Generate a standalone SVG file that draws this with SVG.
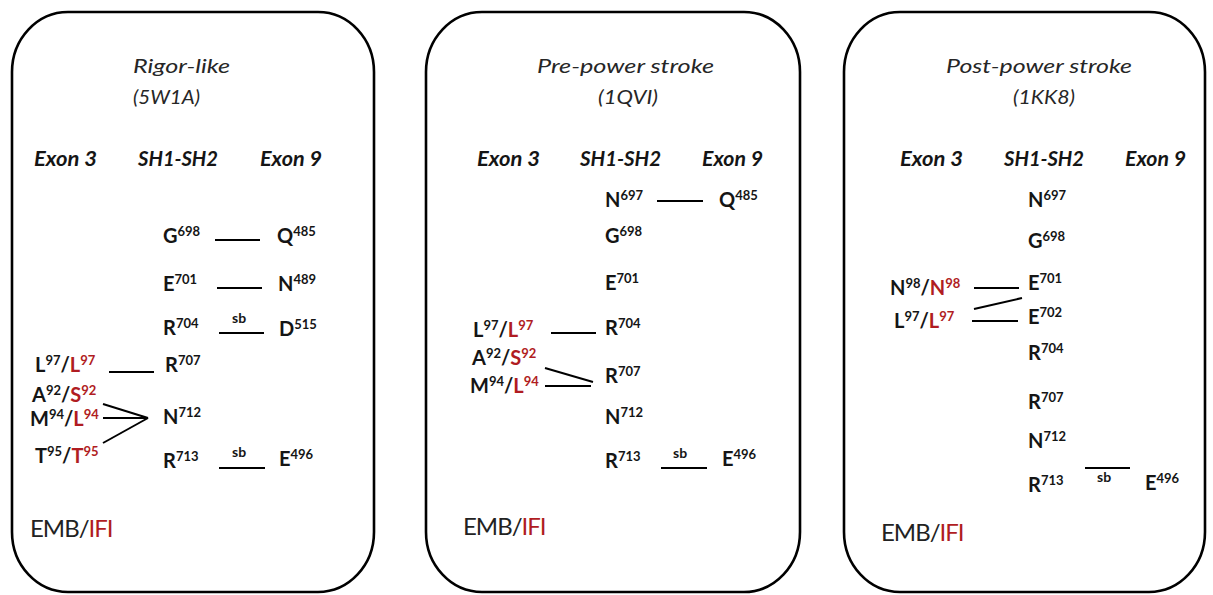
<svg xmlns="http://www.w3.org/2000/svg" width="1213" height="595" viewBox="0 0 1213 595">
<style>
text{font-family:Lato,"Open Sans","Liberation Sans",sans-serif;fill:#151515}
.panel{fill:#fff;stroke:#000;stroke-width:2.6}
.title{font-size:20px;font-style:italic;fill:#262626}
.hdr{font-size:20px;font-weight:bold;font-style:italic}
.res{font-size:20px;font-weight:bold}
.sup{font-size:13px}
.sb{font-size:14px;font-weight:bold}
.leg{font-size:24px;letter-spacing:-1px;fill:#222}
.red,.leg .red{fill:#b01c22}
.conn line{stroke:#000;stroke-width:2}
</style>
<rect width="1213" height="595" fill="#fff"/>

<g id="panel-rigor">
<rect class="panel" x="12" y="12" width="362" height="580" rx="56" ry="60"/>
<text class="title" x="133" y="73" textLength="97" lengthAdjust="spacingAndGlyphs">Rigor-like</text>
<text class="title" x="133" y="104" textLength="67" lengthAdjust="spacingAndGlyphs">(5W1A)</text>
<text class="hdr" x="34" y="166" textLength="63" lengthAdjust="spacingAndGlyphs">Exon 3</text>
<text class="hdr" x="138" y="166" textLength="80" lengthAdjust="spacingAndGlyphs">SH1-SH2</text>
<text class="hdr" x="260" y="166" textLength="62" lengthAdjust="spacingAndGlyphs">Exon 9</text>
<g id="p1-G698"><text class="res" x="163" y="243">G<tspan class="sup" dy="-7">698</tspan></text></g>
<g id="p1-Q485"><text class="res" x="277" y="243">Q<tspan class="sup" dy="-7">485</tspan></text></g>
<g id="p1-E701"><text class="res" x="163" y="291">E<tspan class="sup" dy="-7">701</tspan></text></g>
<g id="p1-N489"><text class="res" x="278" y="291">N<tspan class="sup" dy="-7">489</tspan></text></g>
<g id="p1-R704"><text class="res" x="163" y="335">R<tspan class="sup" dy="-7">704</tspan></text></g>
<g id="p1-D515"><text class="res" x="279" y="336">D<tspan class="sup" dy="-7">515</tspan></text></g>
<g id="p1-L97"><text class="res" x="35" y="372">L<tspan class="sup" dy="-7">97</tspan><tspan dy="7">/</tspan><tspan class="red">L</tspan><tspan class="sup red" dy="-7">97</tspan></text></g>
<g id="p1-R707"><text class="res" x="165" y="372">R<tspan class="sup" dy="-7">707</tspan></text></g>
<g id="p1-A92"><text class="res" x="32" y="402">A<tspan class="sup" dy="-7">92</tspan><tspan dy="7">/</tspan><tspan class="red">S</tspan><tspan class="sup red" dy="-7">92</tspan></text></g>
<g id="p1-M94"><text class="res" x="30" y="426">M<tspan class="sup" dy="-7">94</tspan><tspan dy="7">/</tspan><tspan class="red">L</tspan><tspan class="sup red" dy="-7">94</tspan></text></g>
<g id="p1-T95"><text class="res" x="35" y="463">T<tspan class="sup" dy="-7">95</tspan><tspan dy="7">/</tspan><tspan class="red">T</tspan><tspan class="sup red" dy="-7">95</tspan></text></g>
<g id="p1-N712"><text class="res" x="163" y="424">N<tspan class="sup" dy="-7">712</tspan></text></g>
<g id="p1-R713"><text class="res" x="163" y="468">R<tspan class="sup" dy="-7">713</tspan></text></g>
<g id="p1-E496"><text class="res" x="279" y="466">E<tspan class="sup" dy="-7">496</tspan></text></g>
<g id="p1-legend"><text class="leg" x="30" y="537">EMB/<tspan class="red">IFI</tspan></text></g>
</g>

<g id="panel-prepower">
<rect class="panel" x="426" y="12" width="374" height="580" rx="56" ry="60"/>
<text class="title" x="537" y="73" textLength="177" lengthAdjust="spacingAndGlyphs">Pre-power stroke</text>
<text class="title" x="598" y="104" textLength="60" lengthAdjust="spacingAndGlyphs">(1QVI)</text>
<text class="hdr" x="477" y="166" textLength="63" lengthAdjust="spacingAndGlyphs">Exon 3</text>
<text class="hdr" x="580" y="166" textLength="81" lengthAdjust="spacingAndGlyphs">SH1-SH2</text>
<text class="hdr" x="702" y="166" textLength="61" lengthAdjust="spacingAndGlyphs">Exon 9</text>
<g id="p2-N697"><text class="res" x="605" y="207">N<tspan class="sup" dy="-7">697</tspan></text></g>
<g id="p2-Q485"><text class="res" x="719" y="207">Q<tspan class="sup" dy="-7">485</tspan></text></g>
<g id="p2-G698"><text class="res" x="605" y="243">G<tspan class="sup" dy="-7">698</tspan></text></g>
<g id="p2-E701"><text class="res" x="605" y="290">E<tspan class="sup" dy="-7">701</tspan></text></g>
<g id="p2-R704"><text class="res" x="605" y="335">R<tspan class="sup" dy="-7">704</tspan></text></g>
<g id="p2-L97"><text class="res" x="473" y="337">L<tspan class="sup" dy="-7">97</tspan><tspan dy="7">/</tspan><tspan class="red">L</tspan><tspan class="sup red" dy="-7">97</tspan></text></g>
<g id="p2-A92"><text class="res" x="472" y="365">A<tspan class="sup" dy="-7">92</tspan><tspan dy="7">/</tspan><tspan class="red">S</tspan><tspan class="sup red" dy="-7">92</tspan></text></g>
<g id="p2-M94"><text class="res" x="470" y="393">M<tspan class="sup" dy="-7">94</tspan><tspan dy="7">/</tspan><tspan class="red">L</tspan><tspan class="sup red" dy="-7">94</tspan></text></g>
<g id="p2-R707"><text class="res" x="605" y="383">R<tspan class="sup" dy="-7">707</tspan></text></g>
<g id="p2-N712"><text class="res" x="605" y="424">N<tspan class="sup" dy="-7">712</tspan></text></g>
<g id="p2-R713"><text class="res" x="605" y="468">R<tspan class="sup" dy="-7">713</tspan></text></g>
<g id="p2-E496"><text class="res" x="722" y="466">E<tspan class="sup" dy="-7">496</tspan></text></g>
<g id="p2-legend"><text class="leg" x="463" y="535">EMB/<tspan class="red">IFI</tspan></text></g>
</g>

<g id="panel-postpower">
<rect class="panel" x="844" y="12" width="361" height="580" rx="56" ry="60"/>
<text class="title" x="946" y="73" textLength="186" lengthAdjust="spacingAndGlyphs">Post-power stroke</text>
<text class="title" x="1013" y="104" textLength="62" lengthAdjust="spacingAndGlyphs">(1KK8)</text>
<text class="hdr" x="900" y="166" textLength="63" lengthAdjust="spacingAndGlyphs">Exon 3</text>
<text class="hdr" x="1004" y="166" textLength="80" lengthAdjust="spacingAndGlyphs">SH1-SH2</text>
<text class="hdr" x="1125" y="166" textLength="61" lengthAdjust="spacingAndGlyphs">Exon 9</text>
<g id="p3-N697"><text class="res" x="1028" y="207">N<tspan class="sup" dy="-7">697</tspan></text></g>
<g id="p3-G698"><text class="res" x="1028" y="248">G<tspan class="sup" dy="-7">698</tspan></text></g>
<g id="p3-E701"><text class="res" x="1028" y="290">E<tspan class="sup" dy="-7">701</tspan></text></g>
<g id="p3-E702"><text class="res" x="1028" y="324">E<tspan class="sup" dy="-7">702</tspan></text></g>
<g id="p3-R704"><text class="res" x="1028" y="360">R<tspan class="sup" dy="-7">704</tspan></text></g>
<g id="p3-R707"><text class="res" x="1028" y="409">R<tspan class="sup" dy="-7">707</tspan></text></g>
<g id="p3-N712"><text class="res" x="1028" y="448">N<tspan class="sup" dy="-7">712</tspan></text></g>
<g id="p3-R713"><text class="res" x="1028" y="492">R<tspan class="sup" dy="-7">713</tspan></text></g>
<g id="p3-N98"><text class="res" x="890" y="295">N<tspan class="sup" dy="-7">98</tspan><tspan dy="7">/</tspan><tspan class="red">N</tspan><tspan class="sup red" dy="-7">98</tspan></text></g>
<g id="p3-L97"><text class="res" x="894" y="328">L<tspan class="sup" dy="-7">97</tspan><tspan dy="7">/</tspan><tspan class="red">L</tspan><tspan class="sup red" dy="-7">97</tspan></text></g>
<g id="p3-E496"><text class="res" x="1145" y="490">E<tspan class="sup" dy="-7">496</tspan></text></g>
<g id="p3-legend"><text class="leg" x="881" y="541">EMB/<tspan class="red">IFI</tspan></text></g>
</g>

<g id="connectors" class="conn">
<line x1="215" y1="240" x2="260" y2="240"/>
<line x1="217" y1="288" x2="262" y2="288"/>
<line x1="219" y1="333" x2="264" y2="333"/>
<line x1="109" y1="372" x2="154" y2="372"/>
<line x1="103" y1="404" x2="148" y2="418"/>
<line x1="103" y1="418" x2="148" y2="418"/>
<line x1="103" y1="443" x2="148" y2="418"/>
<line x1="219" y1="468" x2="265" y2="468"/>
<line x1="657" y1="201" x2="703" y2="201"/>
<line x1="551" y1="333" x2="596" y2="333"/>
<line x1="545" y1="368" x2="593" y2="382"/>
<line x1="545" y1="386" x2="591" y2="386"/>
<line x1="661" y1="468" x2="707" y2="468"/>
<line x1="974" y1="288" x2="1019" y2="288"/>
<line x1="974" y1="309" x2="1022" y2="298"/>
<line x1="972" y1="321" x2="1018" y2="321"/>
<line x1="1085" y1="468" x2="1130" y2="468"/>
</g>
<g id="bond-labels">
<text class="sb" x="232" y="323">sb</text>
<text class="sb" x="232" y="457">sb</text>
<text class="sb" x="673" y="458">sb</text>
<text class="sb" x="1097" y="482">sb</text>
</g>
</svg>
